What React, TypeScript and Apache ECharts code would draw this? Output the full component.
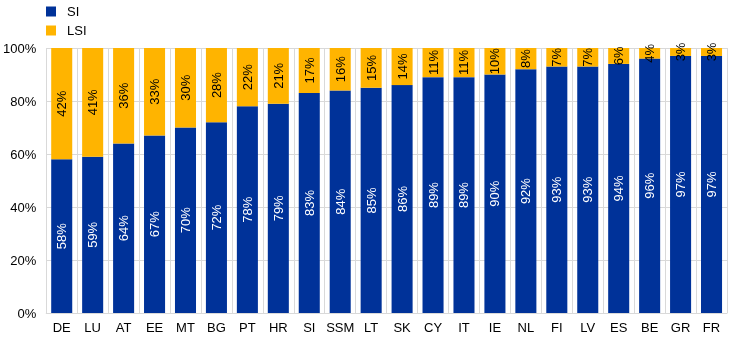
import React, { useEffect, useRef } from "react";
import * as echarts from "echarts";

const categories = ["DE", "LU", "AT", "EE", "MT", "BG", "PT", "HR", "SI", "SSM", "LT", "SK", "CY", "IT", "IE", "NL", "FI", "LV", "ES", "BE", "GR", "FR"];
const siValues = [58, 59, 64, 67, 70, 72, 78, 79, 83, 84, 85, 86, 89, 89, 90, 92, 93, 93, 94, 96, 97, 97];
const lsiValues = [42, 41, 36, 33, 30, 28, 22, 21, 17, 16, 15, 14, 11, 11, 10, 8, 7, 7, 6, 4, 3, 3];
const yTicks = [0, 20, 40, 60, 80, 100];

export default function App() {
  const ref = useRef<HTMLDivElement>(null);
  useEffect(() => {
    if (!ref.current) return;
    const chart = echarts.init(ref.current, undefined, { renderer: "svg" });
    const labelFont = "Liberation Sans, Arial, sans-serif";
    chart.setOption({
      animation: false,
      textStyle: { fontFamily: labelFont },
      legend: {
        orient: "vertical",
        left: 46,
        top: 5,
        padding: 0,
        itemWidth: 10,
        itemHeight: 10,
        itemGap: 6,
        icon: "rect",
        textStyle: { fontSize: 13, color: "#000", fontFamily: labelFont, padding: [0, 0, 0, 6] },
        data: ["SI", "LSI"],
      },
      grid: { left: 46, right: 13, top: 48, bottom: 27, containLabel: false },
      xAxis: {
        type: "category",
        data: categories,
        axisTick: { show: false },
        axisLine: { lineStyle: { color: "#d9d9d9", width: 1 } },
        axisLabel: { color: "#000", fontSize: 13, margin: 8, interval: 0, fontFamily: labelFont },
        splitLine: { show: true, interval: 0, lineStyle: { color: "#d9d9d9", width: 1 } },
      },
      yAxis: {
        type: "value",
        min: yTicks[0],
        max: yTicks[yTicks.length - 1],
        interval: 20,
        axisLine: { show: false },
        axisTick: { show: false },
        axisLabel: { color: "#000", fontSize: 13, margin: 10, formatter: "{value}%", fontFamily: labelFont },
        splitLine: { lineStyle: { color: "#d9d9d9", width: 1 } },
      },
      series: [
        {
          name: "SI",
          type: "bar",
          stack: "total",
          data: siValues,
          barWidth: "68%",
          itemStyle: { color: "#003299" },
          label: {
            show: true,
            position: "inside",
            rotate: 90,
            color: "#fff",
            fontSize: 13,
            fontFamily: labelFont,
            formatter: "{c}%",
          },
        },
        {
          name: "LSI",
          type: "bar",
          stack: "total",
          data: lsiValues,
          barWidth: "68%",
          itemStyle: { color: "#ffb400" },
          label: {
            show: true,
            position: "inside",
            rotate: 90,
            color: "#000",
            fontSize: 13,
            fontFamily: labelFont,
            formatter: "{c}%",
          },
        },
      ],
    });
    return () => chart.dispose();
  }, []);
  return <div ref={ref} style={{ position: "fixed", left: 0, top: 0, width: 740, height: 340 }} />;
}
